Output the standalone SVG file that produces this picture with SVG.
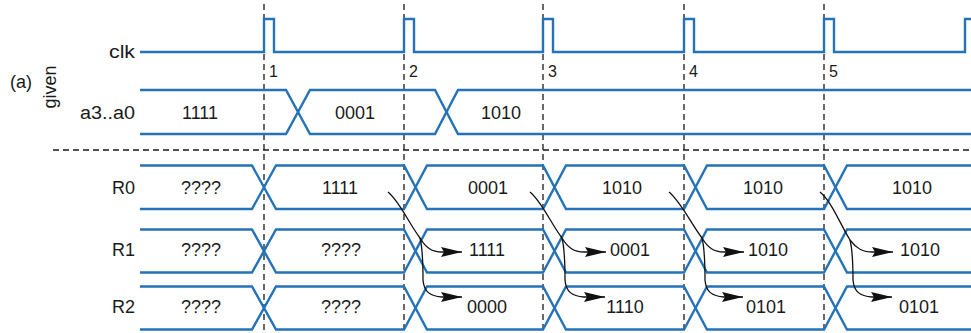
<svg xmlns="http://www.w3.org/2000/svg" width="971" height="333" viewBox="0 0 971 333">
<style>
.w{fill:none;stroke:#2473b8;stroke-width:2.4;stroke-linejoin:miter}
.d{fill:none;stroke:#1a1a1a;stroke-width:1.3;stroke-dasharray:6,4}
.t{font-family:"Liberation Sans",Arial,sans-serif;font-size:18px;fill:#1a1a1a}
.v{font-family:"Liberation Sans",Arial,sans-serif;font-size:18px;fill:#1a1a1a;text-anchor:middle}
.n{font-family:"Liberation Sans",Arial,sans-serif;font-size:16px;fill:#1a1a1a}
.a{fill:none;stroke:#111;stroke-width:1.3}
</style>
<defs>
<marker id="ah" markerUnits="userSpaceOnUse" markerWidth="24" markerHeight="12" refX="21" refY="5.5" orient="auto">
<path d="M0,0.5 L21,5.5 L0,10.5 L3,5.5 z" fill="#111"/>
</marker>
</defs>
<rect width="971" height="333" fill="#fff"/>
<g id="grid">
<path class="d" d="M264,4 V333 M404,4 V333 M543,4 V333 M684,4 V333 M824,4 V333"/>
<path class="d" d="M53,150 H971" stroke-dasharray="8,5"/>
</g>
<g id="labels">
<text class="t" x="10" y="88" textLength="22" lengthAdjust="spacingAndGlyphs">(a)</text>
<text class="t" x="0" y="0" font-size="17" text-anchor="middle" transform="translate(56,87) rotate(-90)">given</text>
</g>
<g id="clk">
<text class="t" x="109" y="58" textLength="26" lengthAdjust="spacingAndGlyphs">clk</text>
<path class="w" d="M140,52 H264 V19 H274 V52 H404 V19 H414 V52 H543 V19 H553 V52 H684 V19 H694 V52 H824 V19 H834 V52 H965 V19 H971"/>
<text class="n" x="269" y="77">1</text>
<text class="n" x="409" y="77">2</text>
<text class="n" x="548" y="77">3</text>
<text class="n" x="689" y="77">4</text>
<text class="n" x="829" y="77">5</text>
</g>
<g id="a3a0">
<text class="t" x="80" y="119" textLength="55" lengthAdjust="spacingAndGlyphs">a3..a0</text>
<path class="w" d="M140,90 H286 L310,134 H435 L458,90 H971"/>
<path class="w" d="M140,134 H286 L310,90 H435 L458,134 H971"/>
<text class="v" x="200" y="119">1111</text>
<text class="v" x="355" y="119">0001</text>
<text class="v" x="501" y="119">1010</text>
</g>
<g id="R0">
<text class="t" x="112" y="194" textLength="23" lengthAdjust="spacingAndGlyphs">R0</text>
<path class="w" d="M140,165.5 H252 L276,209 H404 L427,165.5 H543 L566,209 H684 L707,165.5 H824 L847,209 H971"/>
<path class="w" d="M140,209 H252 L276,165.5 H404 L427,209 H543 L566,165.5 H684 L707,209 H824 L847,165.5 H971"/>
<text class="v" x="201" y="194" font-size="17">????</text>
<text class="v" x="340" y="194">1111</text>
<text class="v" x="488" y="194">0001</text>
<text class="v" x="622" y="194">1010</text>
<text class="v" x="763" y="194">1010</text>
<text class="v" x="912" y="194">1010</text>
</g>
<g id="R1">
<text class="t" x="112" y="256" textLength="23" lengthAdjust="spacingAndGlyphs">R1</text>
<path class="w" d="M140,229.5 H252 L276,272.5 H404 L427,229.5 H543 L566,272.5 H684 L707,229.5 H824 L847,272.5 H971"/>
<path class="w" d="M140,272.5 H252 L276,229.5 H404 L427,272.5 H543 L566,229.5 H684 L707,272.5 H824 L847,229.5 H971"/>
<text class="v" x="201" y="256" font-size="17">????</text>
<text class="v" x="341" y="256" font-size="17">????</text>
<text class="v" x="487" y="256">1111</text>
<text class="v" x="630" y="256">0001</text>
<text class="v" x="768" y="256">1010</text>
<text class="v" x="920" y="256">1010</text>
</g>
<g id="R2">
<text class="t" x="112" y="313" textLength="23" lengthAdjust="spacingAndGlyphs">R2</text>
<path class="w" d="M140,286.5 H252 L276,329.5 H404 L427,286.5 H543 L566,329.5 H684 L707,286.5 H824 L847,329.5 H971"/>
<path class="w" d="M140,329.5 H252 L276,286.5 H404 L427,329.5 H543 L566,286.5 H684 L707,329.5 H824 L847,286.5 H971"/>
<text class="v" x="201" y="313" font-size="17">????</text>
<text class="v" x="341" y="313" font-size="17">????</text>
<text class="v" x="487" y="313">0000</text>
<text class="v" x="625" y="313">1110</text>
<text class="v" x="766" y="313">0101</text>
<text class="v" x="919" y="313">0101</text>
</g>
<g id="connectors">
<path class="a" marker-end="url(#ah)" d="M388,192 C400,202 408,222 420,238 C426,248 432,252 442,252 L462,252"/>
<path class="a" marker-end="url(#ah)" d="M420,238 C423,250 423,268 423,280 C424,292 430,296 442,297 L462,297"/>
<path class="a" marker-end="url(#ah)" d="M530,192 C542,202 550,222 562,238 C568,248 574,252 584,252 L606,252"/>
<path class="a" marker-end="url(#ah)" d="M562,238 C565,250 565,268 565,280 C566,292 572,296 584,297 L605,297"/>
<path class="a" marker-end="url(#ah)" d="M669,192 C681,202 690,222 702,238 C708,248 714,252 724,252 L744,252"/>
<path class="a" marker-end="url(#ah)" d="M702,238 C705,250 705,268 705,280 C706,292 712,296 724,297 L743,297"/>
<path class="a" marker-end="url(#ah)" d="M820,192 C832,202 840,224 850,240 C856,248 862,252 872,252 L893,252"/>
<path class="a" marker-end="url(#ah)" d="M850,240 C853,252 853,268 853,280 C854,292 860,296 872,297 L892,297"/>
</g>
</svg>
